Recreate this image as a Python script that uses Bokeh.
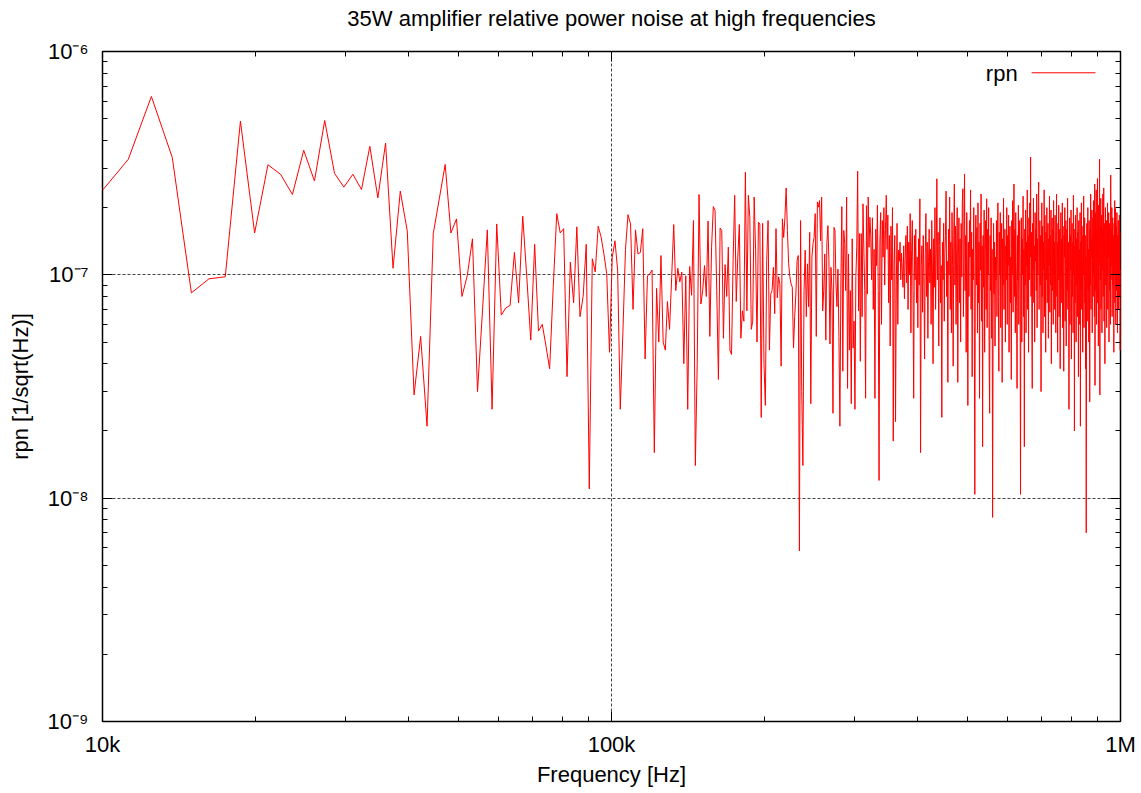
import numpy as np
from bokeh.plotting import figure
from bokeh.models import FixedTicker, LogAxis, Label, Range1d
from bokeh.embed import file_html
from bokeh.resources import INLINE

# ---------------- data ----------------
# frequency grid (Hz): linear FFT bins
f_start = 10000.0
f_step = 1237.5

# relative power noise, in units of 1e-9 / sqrt(Hz)
rpn_low = [239, 329, 629, 335, 83, 96, 98, 488, 154, 311, 282, 229, 361, 263, 491, 285, 247, 282, 241, 376,
           221, 389, 107, 237, 157, 29, 53, 21, 153, 219, 312, 154, 178, 80, 99, 145, 30, 69, 159, 25,
           169, 66, 71, 73, 126, 75, 183, 98, 51, 137, 56, 60, 48, 38, 88, 188, 154, 161, 35, 114,
           75, 164, 65, 80, 137, 11, 118, 103, 165, 148, 124, 101, 45, 120, 142, 105, 25, 55, 130]

rpn_mid = [186, 169, 70, 159, 124, 126, 161, 42, 99, 101, 105, 16, 87, 50, 122, 50, 46, 76, 57, 97,
           168, 85, 107, 93, 103, 40, 99, 25, 109, 81, 175, 14, 40, 229, 74, 85, 110, 80, 174, 53,
           133, 202, 194, 85, 34, 162, 158, 52, 111, 80, 133, 46, 44, 116, 227, 76, 120, 168, 52, 69,
           62, 288,
           69, 227, 181, 57, 62, 223, 129, 50, 172, 169, 23, 170, 40, 26, 116, 175, 46, 82, 85, 108,
           67, 161, 79, 98, 91, 39, 178, 147, 181, 245, 158, 112, 98, 91, 88, 47, 65, 82, 116, 122,
           5.8, 175, 30, 14, 85, 129, 65, 112, 72, 155, 26.5, 120, 138, 147, 188, 53, 212, 201, 215, 142,
           223, 69, 85, 124, 51, 138, 166, 116, 49, 108, 85, 24, 163, 158, 91, 72, 106, 53, 21, 91,
           202, 37, 158, 138, 85, 223, 31, 124, 46, 85, 26.5, 145, 47, 62, 25, 98, 133, 291, 69, 153,
           41, 153, 65, 208, 129, 85, 28, 204, 82, 223, 133, 181]

rpn_high_a = [150, 95, 180, 70, 130, 28, 160, 110, 205, 85, 12, 140, 190, 60, 175, 120, 200, 90, 160, 227,
              130, 185, 75, 150, 48, 165, 95, 200, 18, 110, 150, 22, 90, 170, 60, 129, 115, 140, 95, 125,
              105, 88, 135, 78, 118, 150, 92, 165, 70, 140, 100, 188, 55, 130, 175, 85, 28, 150, 95, 160,
              75, 120, 58, 145, 90, 219, 16, 110, 135, 68, 150, 98, 42, 125, 188, 80, 140, 52, 115, 160,
              92, 130, 60, 175, 105, 40, 145, 88, 200, 70, 120, 269, 95, 155, 48, 135, 180, 75, 110, 23,
              140, 95, 170, 62, 125, 150, 237, 80, 115, 33, 160, 100, 223, 70, 140, 55, 190, 110, 39, 150,
              255, 90, 165, 60, 130, 200, 33, 120, 180, 75, 145, 50, 170, 98, 210, 243, 65, 130, 283, 85,
              150, 45, 190, 110, 26, 140, 80, 175, 120, 240, 70, 155, 35, 130, 95, 200, 60, 10.4, 125, 185,
              90, 163, 55, 210, 75, 140, 28, 170, 105, 230, 62, 135, 17, 150, 88, 195, 45, 120, 175, 70,
              219, 58, 160, 100, 200, 40, 24, 150, 85, 180, 52, 130, 8.2, 60, 170, 82, 140, 48, 120, 95]

rpn_high_b = [175, 65, 140, 210, 80, 37, 155, 100, 190, 58, 125, 170, 33, 145, 90, 220, 70, 115, 160, 50,
              135, 95, 200, 60, 150, 110, 185, 45, 130, 165, 75, 120, 34, 175, 100, 215, 68, 140, 255, 80,
              160, 55, 190, 115, 72, 31, 150, 95, 205, 60, 135, 175, 85, 10.4, 120, 180, 50, 145, 100, 225,
              65, 130, 17, 160, 90, 195, 55, 140, 110, 240, 70, 150, 45, 180, 95, 210, 120, 337, 80, 155,
              60, 31, 170, 105, 220, 75, 135, 50, 190, 115, 160, 85, 230, 58, 145, 100, 200, 260, 70, 130,
              175, 90, 150, 30, 125, 210, 80, 165, 55, 140, 105, 240, 65, 185, 120, 45, 155, 95, 200, 75,
              135, 170, 52, 145, 110, 225, 68, 150, 90, 195, 40, 130, 180, 85, 160, 60, 215, 100, 140, 70,
              185, 115, 55, 150, 230, 80, 140, 45, 170, 95, 205, 65, 130, 160, 38, 120, 190, 75, 145, 100,
              210, 58, 165, 90, 37, 150, 120, 200, 62, 135, 175, 48, 110, 160, 85, 220, 70, 140, 95, 25,
              130, 180, 60, 150, 105, 195, 42, 125, 170, 80, 140, 55, 227, 100, 160, 20, 135, 75, 185, 110,
              50, 145, 90, 200, 65, 155, 120, 35, 175, 95, 130, 60, 190, 21, 140, 85, 210, 70, 150, 110,
              45, 165, 100, 225, 58, 135, 180, 75, 150, 38, 120, 7, 95, 170, 62, 140, 200, 85, 130, 50,
              175, 110, 27, 160, 90, 230, 70, 145, 120, 195, 55, 135, 180, 80, 215, 100, 150, 65, 255, 32,
              140, 190, 85, 240, 60, 160, 120, 270, 75, 150, 48, 205, 110, 175, 330, 29, 165, 95, 220, 70,
              145, 185, 55, 160, 105, 230, 80, 135, 245, 62, 170, 115, 40, 150, 200, 90, 125, 175, 58, 140,
              100, 210, 70, 155, 120, 190, 50, 135, 170, 85, 145, 60, 280, 95, 160, 110, 200, 65, 130, 180,
              90, 150, 115, 45, 170, 100, 215, 75, 140, 198, 60, 125, 165, 85, 190, 110, 55, 150, 95, 175,
              70, 140, 120, 185, 80, 155, 46, 105]

x_ticks = [1e4, 1e5, 1e6]
x_tick_labels = ["10k", "100k", "1M"]
y_ticks = [1e-9, 1e-8, 1e-7, 1e-6]
y_tick_labels = ["10\u207b\u2079", "10\u207b\u2078", "10\u207b\u2077", "10\u207b\u2076"]
series_name = "rpn"
title_text = "35W amplifier relative power noise at high frequencies"

rpn = np.array(rpn_low + rpn_mid + rpn_high_a + rpn_high_b, dtype=float) * 1e-9
freq = f_start + f_step * np.arange(len(rpn))

# ---------------- styling ----------------
FONT = "Liberation Sans"
FS = "22px"
RED = "#ff0000"

x_minor = [m * 10 ** e for e in (4, 5) for m in range(2, 10)]
y_minor = [m * 10.0 ** e for e in (-9, -8, -7) for m in range(2, 10)]
xticker = FixedTicker(ticks=x_ticks, minor_ticks=x_minor)
yticker = FixedTicker(ticks=y_ticks, minor_ticks=y_minor)

p = figure(width=1138, height=790,
           x_axis_type="log", y_axis_type="log",
           x_range=Range1d(1e4, 1e6), y_range=Range1d(1e-9, 1e-6),
           output_backend="svg", toolbar_location=None,
           min_border_left=102, min_border_right=18,
           min_border_top=51, min_border_bottom=69)

p.outline_line_color = "black"
p.outline_line_width = 1.5
p.background_fill_color = "white"
p.border_fill_color = "white"


def style_axis(ax, show_labels):
    ax.axis_line_color = None
    ax.major_tick_in = 10
    ax.major_tick_out = 0
    ax.minor_tick_in = 5
    ax.minor_tick_out = 0
    ax.major_tick_line_color = "black"
    ax.minor_tick_line_color = "black"
    ax.major_label_text_font = FONT
    ax.major_label_text_font_size = FS if show_labels else "0px"
    ax.major_label_text_color = "black"
    ax.axis_label_text_font = FONT
    ax.axis_label_text_font_size = FS
    ax.axis_label_text_font_style = "normal"
    ax.axis_label_text_color = "black"


xa = p.xaxis[0]
xa.ticker = xticker
xa.major_label_overrides = dict(zip(x_ticks, x_tick_labels))
xa.axis_label = "Frequency [Hz]"
style_axis(xa, True)
xa.major_label_standoff = 10
xa.axis_label_standoff = 2

ya = p.yaxis[0]
ya.ticker = yticker
ya.major_label_overrides = dict(zip(y_ticks, y_tick_labels))
ya.axis_label = "rpn [1/sqrt(Hz)]"
style_axis(ya, True)
ya.major_label_standoff = 14
ya.axis_label_standoff = 12

# mirrored ticks on top; the chart title sits above them, centred on the frame
top = LogAxis(ticker=FixedTicker(ticks=x_ticks, minor_ticks=x_minor))
style_axis(top, False)
top.major_label_standoff = 0
top.major_label_text_alpha = 0
top.axis_label = title_text
top.axis_label_standoff = 21
p.add_layout(top, "above")

right = LogAxis(ticker=FixedTicker(ticks=y_ticks, minor_ticks=y_minor))
style_axis(right, False)
right.major_label_standoff = 0
right.major_label_text_alpha = 0
p.add_layout(right, "right")

p.xgrid.ticker = FixedTicker(ticks=[1e5])
p.ygrid.ticker = FixedTicker(ticks=[1e-8, 1e-7])
for g in (p.xgrid, p.ygrid):
    g.grid_line_color = "#444444"
    g.grid_line_dash = "3 2"
    g.grid_line_width = 1

p.line(freq, rpn, line_color=RED, line_width=1)

# legend (gnuplot style: text then sample line, top right)
leg_text_x, leg_text_y = 6.28e5, 7.99e-7
leg_line_x, leg_line_y = [6.69e5, 8.93e5], [8.03e-7, 8.03e-7]
p.line(leg_line_x, leg_line_y, line_color=RED, line_width=1)
p.add_layout(Label(x=leg_text_x, y=leg_text_y, text=series_name, text_align="right",
                   text_baseline="alphabetic", text_font=FONT, text_font_size=FS,
                   text_color="black"))

open("out.html", "w").write(file_html(p, INLINE))
